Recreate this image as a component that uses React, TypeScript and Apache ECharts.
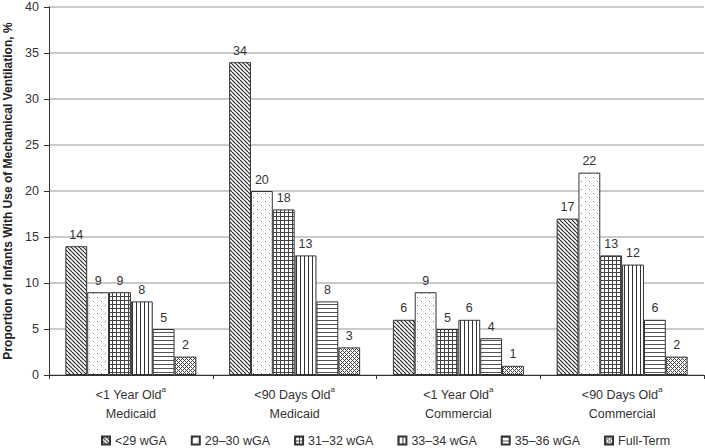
import React, { useEffect, useRef } from 'react';
import * as echarts from 'echarts';

const categoryAges = ['<1 Year Old', '<90 Days Old', '<1 Year Old', '<90 Days Old'];
const categoryPayers = ['Medicaid', 'Medicaid', 'Commercial', 'Commercial'];
const seriesNames = ['<29 wGA', '29–30 wGA', '31–32 wGA', '33–34 wGA', '35–36 wGA', 'Full-Term'];
const lt29 = [14, 34, 6, 17];
const w29to30 = [9, 20, 9, 22];
const w31to32 = [9, 18, 5, 13];
const w33to34 = [8, 13, 6, 12];
const w35to36 = [5, 8, 4, 6];
const fullTerm = [2, 3, 1, 2];
const yTicks = [0, 5, 10, 15, 20, 25, 30, 35, 40];
const yAxisTitle = 'Proportion of Infants With Use of Mechanical Ventilation, %';

const seriesValues = [lt29, w29to30, w31to32, w33to34, w35to36, fullTerm];

function tile(w: number, h: number, draw: (ctx: CanvasRenderingContext2D) => void) {
  const c = document.createElement('canvas');
  c.width = w;
  c.height = h;
  const ctx = c.getContext('2d') as CanvasRenderingContext2D;
  ctx.fillStyle = '#ffffff';
  ctx.fillRect(0, 0, w, h);
  draw(ctx);
  return { image: c, repeat: 'repeat', imageWidth: w, imageHeight: h } as any;
}

function makePatterns() {
  const diag = tile(4, 4, (ctx) => {
    ctx.strokeStyle = '#2a2a2a';
    ctx.lineWidth = 1.2;
    ctx.beginPath();
    for (const k of [-1, 0, 1]) {
      ctx.moveTo(k * 4, 0);
      ctx.lineTo(k * 4 + 4, 4);
    }
    ctx.stroke();
  });
  const dots = tile(8, 8, (ctx) => {
    ctx.fillStyle = '#707070';
    ctx.fillRect(1, 1, 1, 1);
    ctx.fillRect(5, 5, 1, 1);
  });
  const grid = tile(4, 4, (ctx) => {
    ctx.fillStyle = '#444';
    ctx.fillRect(0, 0, 4, 1);
    ctx.fillRect(0, 0, 1, 4);
  });
  const vert = tile(4, 4, (ctx) => {
    ctx.fillStyle = '#333';
    ctx.fillRect(0, 0, 1, 4);
  });
  const horiz = tile(4, 4, (ctx) => {
    ctx.fillStyle = '#555';
    ctx.fillRect(0, 0, 4, 1);
  });
  const checker = tile(4, 4, (ctx) => {
    ctx.fillStyle = '#444';
    for (let x = 0; x < 4; x++) {
      for (let y = 0; y < 4; y++) {
        if ((x + y) % 4 === 0 || (x - y + 4) % 4 === 0) ctx.fillRect(x, y, 1, 1);
      }
    }
  });
  return [diag, dots, grid, vert, horiz, checker];
}

export default function App() {
  const ref = useRef<HTMLDivElement>(null);
  useEffect(() => {
    document.body.style.margin = '0';
    const chart = echarts.init(ref.current as HTMLDivElement, undefined, { renderer: 'svg' });
    const patterns = makePatterns();
    const categories = categoryAges.map((a, i) => `${a}\n${categoryPayers[i]}`);
    const font = "'Liberation Sans', Arial, sans-serif";
    chart.setOption({
      animation: false,
      textStyle: { fontFamily: font },
      grid: { left: 49, right: 1, top: 7, bottom: 73, containLabel: false, outerBoundsMode: 'none' },
      legend: {
        top: 429,
        left: 96,
        icon: 'rect',
        itemWidth: 8,
        itemHeight: 8,
        itemGap: 24,
        textStyle: { fontSize: 12.5, color: '#333', fontFamily: font },
        data: seriesNames,
      },
      xAxis: {
        type: 'category',
        data: categories,
        axisLine: { lineStyle: { color: '#333', width: 1 } },
        axisTick: { show: true, length: 4, lineStyle: { color: '#333' } },
        axisLabel: {
          margin: 10,
          interval: 0,
          formatter: (v: string) => {
            const [a, p] = v.split('\n');
            return `{n|${a}}{s|a}\n{n|${p}}`;
          },
          rich: {
            n: { fontSize: 12.5, color: '#333', lineHeight: 19, fontFamily: font },
            s: { fontSize: 8, color: '#333', verticalAlign: 'top', lineHeight: 19, padding: [0, 0, 6, 0], fontFamily: font },
          },
        },
      },
      yAxis: {
        type: 'value',
        min: yTicks[0],
        max: yTicks[yTicks.length - 1],
        interval: 5,
        name: yAxisTitle,
        nameLocation: 'middle',
        nameGap: 35,
        nameTextStyle: { fontSize: 12, fontWeight: 'bold', color: '#222', fontFamily: font },
        axisLine: { show: true, lineStyle: { color: '#333', width: 1 } },
        axisTick: { show: true, length: 5, lineStyle: { color: '#333' } },
        axisLabel: { fontSize: 12.5, color: '#333', margin: 10 },
        splitLine: { lineStyle: { color: '#b8b8b8', width: 1.5 } },
      },
      series: seriesNames.map((name, i) => ({
        name,
        type: 'bar',
        data: seriesValues[i],
        barGap: '0%',
        barCategoryGap: '20%',
        itemStyle: { color: patterns[i], borderColor: '#333', borderWidth: 1 },
        label: { show: true, position: 'top', distance: 5, fontSize: 12.5, color: '#333', fontFamily: font },
        emphasis: { disabled: true },
      })),
    });
    return () => chart.dispose();
  }, []);
  return <div ref={ref} style={{ position: 'absolute', left: 0, top: 0, width: 705, height: 448 }} />;
}
